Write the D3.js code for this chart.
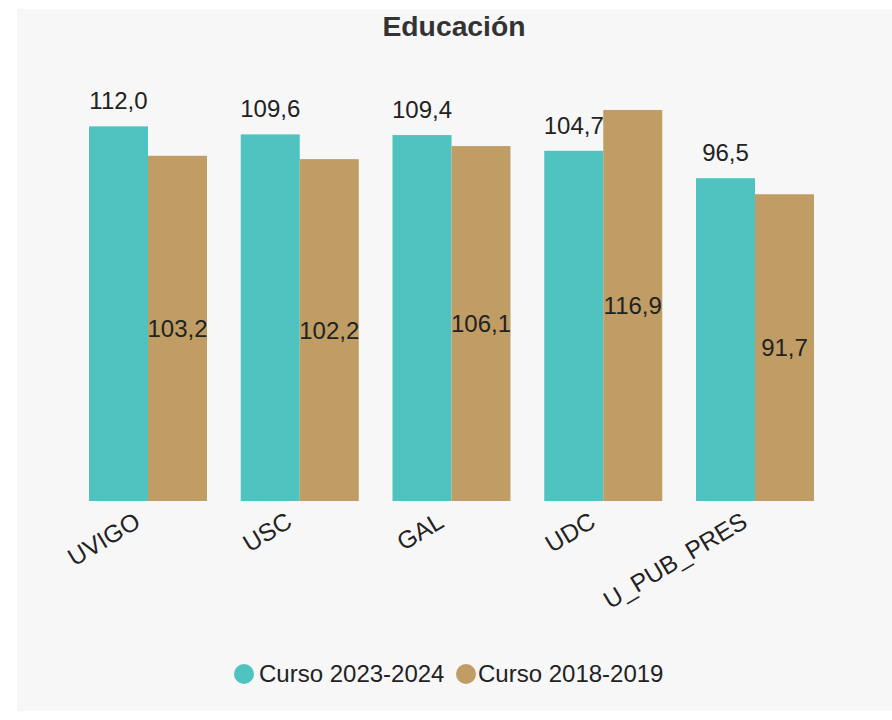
<!DOCTYPE html>
<html><head><meta charset="utf-8">
<script src="https://cdn.jsdelivr.net/npm/d3@7"></script>
<style>body{margin:0;background:#fff;font-family:"Liberation Sans",Arial,sans-serif;}</style>
</head><body><div id="chart"></div>
<script>
const categories = ["UVIGO","USC","GAL","UDC","U_PUB_PRES"];
const seriesNames = ["Curso 2023-2024","Curso 2018-2019"];
const values2324 = [112.0,109.6,109.4,104.7,96.5];
const values1819 = [103.2,102.2,106.1,116.9,91.7];
const colors = ["#4ec3bf","#bf9d64"];
const title = "Educación";

const W=892,H=720;
const svg=d3.select("#chart").append("svg").attr("width",W).attr("height",H);
svg.append("rect").attr("x",17).attr("y",9).attr("width",W-17).attr("height",702).attr("fill","#f7f7f7");
svg.append("text").attr("x",454).attr("y",36).attr("text-anchor","middle")
  .attr("font-size",28.3).attr("font-weight","bold").attr("fill","#333").text(title);

const step=151.75, pIn=0.2224, pOut=0.111;
const x=d3.scaleBand().domain(categories).range([89-pOut*step,814+pOut*step]).paddingInner(pIn).paddingOuter(pOut);
const x1=d3.scaleBand().domain(seriesNames).range([0,x.bandwidth()]);
const y=d3.scaleLinear().domain([0,140]).range([501,501-140*3.345]);
const fmt=v=>d3.format(".1f")(v).replace(".",",");

const data=categories.map((c,i)=>({c,vals:[values2324[i],values1819[i]]}));
const g=svg.append("g");
data.forEach(d=>{
  d.vals.forEach((v,k)=>{
    const bx=x(d.c)+x1(seriesNames[k]);
    g.append("rect").attr("x",bx).attr("y",y(v)).attr("width",x1.bandwidth()).attr("height",y(0)-y(v)).attr("fill",colors[k]);
    const t=g.append("text").attr("x",bx+x1.bandwidth()/2).attr("text-anchor","middle")
      .attr("font-size",24).attr("fill","#222").text(fmt(v));
    if(k===0) t.attr("y",y(v)-17);
    else t.attr("y",(y(v)+y(0))/2+8.5);
  });
});

const xAxis=svg.append("g").attr("transform","translate(0,501)").call(d3.axisBottom(x).tickSize(0).tickPadding(0));
xAxis.select(".domain").remove();
xAxis.selectAll("text").attr("font-size",24.5).attr("fill","#222").attr("font-family","Liberation Sans, Arial, sans-serif")
  .attr("text-anchor","end").attr("dy",null).attr("y",null)
  .attr("transform","translate(-6,25) rotate(-31)");

const leg=svg.append("g");
const legX=[244,466];
const legT=[259,478];
seriesNames.forEach((s,k)=>{
  leg.append("circle").attr("cx",legX[k]).attr("cy",674).attr("r",10).attr("fill",colors[k]);
  leg.append("text").attr("x",legT[k]).attr("y",682).attr("font-size",24).attr("fill","#222").text(s);
});
</script></body></html>
